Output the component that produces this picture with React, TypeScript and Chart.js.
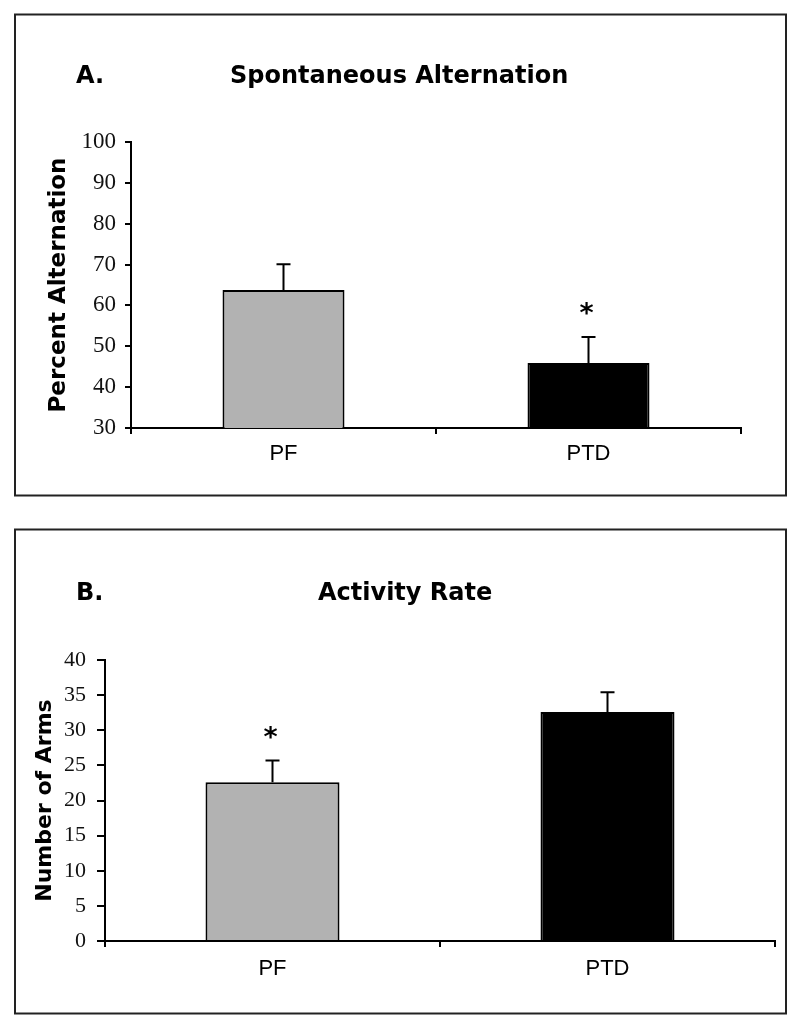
import React, { useEffect, useRef } from 'react';
import { Chart, registerables } from 'chart.js';

Chart.register(...registerables);

// ---- data ----
const categories = ['PF', 'PTD'];
const barColors = ['#b2b2b2', '#000000'];

const alternationMeans = [63.8, 45.9];
const alternationErrors = [6.3, 6.4];
const alternationSignificant = [false, true];
const alternationTicks = [30, 40, 50, 60, 70, 80, 90, 100];

const armsMeans = [22.6, 32.6];
const armsErrors = [3.1, 2.8];
const armsSignificant = [true, false];
const armsTicks = [0, 5, 10, 15, 20, 25, 30, 35, 40];

type PanelCfg = {
  letter: string;
  title: string;
  yTitle: string;
  means: number[];
  errors: number[];
  sig: boolean[];
  ticks: number[];
  top: number;
  height: number;
  padTop: number;
  padRight: number;
  yWidth: number;
  yTickLen: number;
  yLabelPad: number;
  yLabelSize: number;
  yTitleSize: number;
  yTitlePad: number;
  xHeight: number;
  xLabelPad: number;
  titleBaseline: number;
  letterX: number;
  titleX: number;
  frame: [number, number, number, number];
};

const panels: PanelCfg[] = [
  {
    letter: 'A.',
    title: 'Spontaneous Alternation',
    yTitle: 'Percent Alternation',
    means: alternationMeans,
    errors: alternationErrors,
    sig: alternationSignificant,
    ticks: alternationTicks,
    top: 0,
    height: 500,
    padTop: 142,
    padRight: 59,
    yWidth: 131,
    yTickLen: 6,
    yLabelPad: 9,
    yLabelSize: 23,
    yTitleSize: 23,
    yTitlePad: 45,
    xHeight: 72,
    xLabelPad: 7,
    titleBaseline: 83,
    letterX: 76,
    titleX: 230,
    frame: [15, 14.5, 771, 481],
  },
  {
    letter: 'B.',
    title: 'Activity Rate',
    yTitle: 'Number of Arms',
    means: armsMeans,
    errors: armsErrors,
    sig: armsSignificant,
    ticks: armsTicks,
    top: 510,
    height: 517,
    padTop: 150,
    padRight: 25,
    yWidth: 105,
    yTickLen: 8,
    yLabelPad: 11,
    yLabelSize: 22,
    yTitleSize: 22,
    yTitlePad: 32,
    xHeight: 86,
    xLabelPad: 9,
    titleBaseline: 90,
    letterX: 76,
    titleX: 318,
    frame: [15, 19.5, 771, 484],
  },
];

function Panel({ cfg }: { cfg: PanelCfg }) {
  const ref = useRef<HTMLCanvasElement | null>(null);
  useEffect(() => {
    if (!ref.current) return;
    const decor = {
      id: 'decor',
      afterDatasetsDraw(chart: any) {
        const ctx = chart.ctx as CanvasRenderingContext2D;
        const meta = chart.getDatasetMeta(0);
        const ys = chart.scales.y;
        ctx.save();
        ctx.strokeStyle = '#000';
        ctx.fillStyle = '#000';
        ctx.lineWidth = 2;
        meta.data.forEach((el: any, i: number) => {
          const v = cfg.means[i];
          const e = cfg.errors[i];
          const yBar = ys.getPixelForValue(v);
          const yTop = ys.getPixelForValue(v + e);
          ctx.beginPath();
          ctx.moveTo(el.x, yBar);
          ctx.lineTo(el.x, yTop);
          ctx.moveTo(el.x - 7, yTop);
          ctx.lineTo(el.x + 7, yTop);
          ctx.stroke();
          if (cfg.sig[i]) {
            ctx.font = 'bold 27px "DejaVu Sans"';
            ctx.textAlign = 'center';
            ctx.textBaseline = 'alphabetic';
            const m = ctx.measureText('*');
            const cy = yTop - 28;
            ctx.fillText('*', el.x - 2, cy + (m.actualBoundingBoxAscent - m.actualBoundingBoxDescent) / 2);
          }
        });
        ctx.font = 'bold 24px "DejaVu Sans"';
        ctx.textAlign = 'left';
        ctx.textBaseline = 'alphabetic';
        ctx.fillText(cfg.letter, cfg.letterX, cfg.titleBaseline);
        ctx.fillText(cfg.title, cfg.titleX, cfg.titleBaseline);
        ctx.strokeStyle = '#222';
        ctx.lineWidth = 2;
        ctx.strokeRect(cfg.frame[0], cfg.frame[1], cfg.frame[2], cfg.frame[3]);
        ctx.restore();
      },
    };
    const chart = new Chart(ref.current, {
      type: 'bar',
      data: {
        labels: categories,
        datasets: [
          {
            data: cfg.means,
            backgroundColor: barColors,
            borderColor: '#000',
            borderWidth: 2,
            barPercentage: 0.4,
            categoryPercentage: 1,
          },
        ],
      },
      options: {
        responsive: false,
        animation: false,
        devicePixelRatio: 1,
        layout: { padding: { top: cfg.padTop, right: cfg.padRight, left: 0, bottom: 0 } },
        plugins: {
          legend: { display: false },
          tooltip: { enabled: false },
          title: { display: false },
        },
        scales: {
          x: {
            afterFit: (s: any) => {
              s.height = cfg.xHeight;
            },
            ticks: {
              font: { family: 'Liberation Sans', size: 22 },
              color: '#000',
              padding: cfg.xLabelPad,
            },
            grid: {
              display: true,
              drawOnChartArea: false,
              drawTicks: true,
              tickLength: 6,
              color: '#000',
              lineWidth: 2,
              offset: true,
            },
            border: { display: true, color: '#000', width: 2 },
          },
          y: {
            min: cfg.ticks[0],
            max: cfg.ticks[cfg.ticks.length - 1],
            afterBuildTicks: (s: any) => {
              s.ticks = cfg.ticks.map((v) => ({ value: v }));
            },
            afterFit: (s: any) => {
              s.width = cfg.yWidth;
            },
            ticks: {
              font: { family: 'Liberation Serif', size: cfg.yLabelSize },
              color: '#111',
              padding: cfg.yLabelPad,
            },
            grid: {
              display: true,
              drawOnChartArea: false,
              drawTicks: true,
              tickLength: cfg.yTickLen,
              color: '#000',
              lineWidth: 2,
            },
            border: { display: true, color: '#000', width: 2 },
            title: {
              display: true,
              text: cfg.yTitle,
              color: '#000',
              font: { family: 'DejaVu Sans', size: cfg.yTitleSize, weight: 'bold' },
              padding: { top: cfg.yTitlePad, bottom: 0 },
            },
          },
        },
      },
      plugins: [decor],
    });
    return () => chart.destroy();
  }, [cfg]);
  return (
    <canvas
      ref={ref}
      width={800}
      height={cfg.height}
      style={{ position: 'absolute', left: 0, top: cfg.top, width: 800, height: cfg.height }}
    />
  );
}

export default function App() {
  return (
    <div style={{ position: 'absolute', left: 0, top: 0, width: 800, height: 1027, background: '#fff' }}>
      {panels.map((p) => (
        <Panel key={p.letter} cfg={p} />
      ))}
    </div>
  );
}
